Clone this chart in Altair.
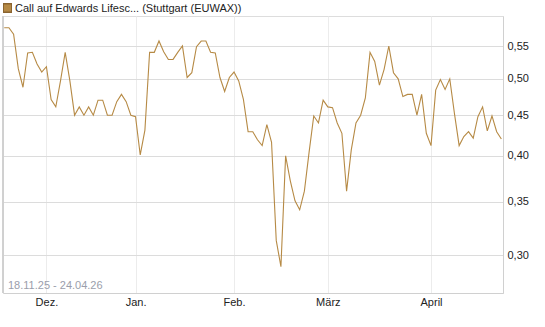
import altair as alt
import pandas as pd

# Daily closing prices (trading days 18.11.25 - 24.04.26)
prices = [
    0.58, 0.58, 0.569, 0.515, 0.488, 0.539, 0.54, 0.522, 0.51, 0.518,
    0.471, 0.461, 0.497, 0.54, 0.497, 0.45, 0.461, 0.45, 0.461, 0.45,
    0.47, 0.47, 0.45, 0.45, 0.468, 0.478, 0.468, 0.45, 0.448, 0.401,
    0.431, 0.54, 0.54, 0.558, 0.541, 0.529, 0.529, 0.54, 0.55, 0.502,
    0.509, 0.549, 0.558, 0.558, 0.54, 0.539, 0.502, 0.482, 0.502, 0.51,
    0.497, 0.471, 0.429, 0.429, 0.419, 0.412, 0.438, 0.416, 0.313, 0.29,
    0.40, 0.372, 0.351, 0.342, 0.361, 0.404, 0.449, 0.44, 0.47, 0.461,
    0.46, 0.44, 0.427, 0.361, 0.407, 0.44, 0.45, 0.473, 0.54, 0.526,
    0.491, 0.514, 0.55, 0.509, 0.50, 0.475, 0.478, 0.478, 0.45, 0.478,
    0.427, 0.412, 0.484, 0.499, 0.485, 0.50, 0.452, 0.412, 0.423, 0.429,
    0.421, 0.448, 0.461, 0.43, 0.449, 0.429, 0.42,
]
month_labels = ["Dez.", "Jan.", "Feb.", "März", "April"]
month_pos = [9, 28, 49, 69, 91]  # trading-day index of first day of month
y_ticks = [0.30, 0.35, 0.40, 0.45, 0.50, 0.55]
legend_label = "Call auf Edwards Lifesc... (Stuttgart (EUWAX))"
range_label = "18.11.25 - 24.04.26"

df = pd.DataFrame({"i": list(range(len(prices))), "price": prices})

W, H = 500, 277
COLOR = "#b68a45"
FONT = "Liberation Sans"

expr = "''"
for p, l in reversed(list(zip(month_pos, month_labels))):
    expr = f"datum.value == {p} ? '{l}' : ({expr})"

x_enc = alt.X(
    "i:Q",
    scale=alt.Scale(domain=[-0.26, 106.35], nice=False, zero=False),
    axis=alt.Axis(
        values=month_pos, labelExpr=expr, title=None, grid=True,
        gridColor="#ececec", domainColor="#d0d0d0", ticks=False,
        labelFont=FONT, labelFontSize=11, labelColor="#222", labelPadding=3,
        labelAlign="center",
    ),
)
y_enc = alt.Y(
    "price:Q",
    scale=alt.Scale(type="log", domain=[0.2687, 0.600], nice=False, zero=False),
    axis=alt.Axis(
        orient="right", values=y_ticks, title=None,
        labelExpr="replace(format(datum.value, '.2f'), '.', ',')",
        gridColor="#dcdcdc", domainColor="#d0d0d0", ticks=False,
        labelFont=FONT, labelFontSize=11, labelColor="#222", labelPadding=4,
    ),
)

line = alt.Chart(df).mark_line(color=COLOR, strokeWidth=1.1, interpolate="linear").encode(
    x=x_enc, y=y_enc
)

left_border = alt.Chart(df).mark_rule(color="#d0d0d0").encode(
    x=alt.value(0), y=alt.value(0), y2=alt.value(H)
)

legend_box = alt.Chart(df).mark_rect(color=COLOR, stroke="#8a6430", strokeWidth=1).encode(
    x=alt.value(0.5), x2=alt.value(8.5), y=alt.value(-12), y2=alt.value(-4)
)
legend_text = alt.Chart(pd.DataFrame({"t": [legend_label]})).mark_text(
    align="left", baseline="middle", font=FONT, fontSize=11, color="#222"
).encode(x=alt.value(12), y=alt.value(-7.5), text="t:N")

range_text = alt.Chart(pd.DataFrame({"t": [range_label]})).mark_text(
    align="left", baseline="middle", font=FONT, fontSize=11, color="#9a9eab"
).encode(x=alt.value(5), y=alt.value(H - 7), text="t:N")

chart = alt.layer(left_border, line, legend_box, legend_text, range_text).properties(
    width=W, height=H,
    autosize=alt.AutoSizeParams(type="none"),
    padding={"left": 3, "top": 16, "right": 42, "bottom": 34},
).configure_view(stroke=None).configure(background="white")

chart.save("out.html", embed_options={"renderer": "svg", "actions": False})
